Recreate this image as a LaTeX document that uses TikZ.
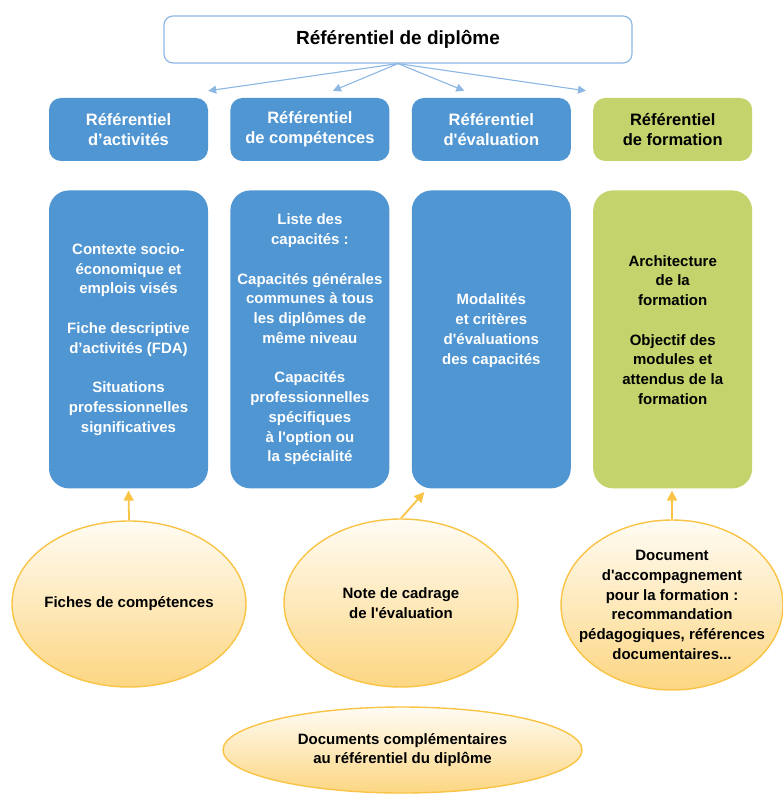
\documentclass[tikz,border=0pt]{standalone}
\usepackage{fontspec}
\setmainfont{Liberation Sans}
\usetikzlibrary{arrows.meta,positioning,shapes.geometric}
\definecolor{capblue}{RGB}{80,150,210}
\definecolor{lineblue}{RGB}{141,184,228}
\definecolor{leafgreen}{RGB}{196,211,108}
\definecolor{goldline}{RGB}{249,196,70}
\definecolor{goldfill}{RGB}{252,214,130}
\definecolor{creamfill}{RGB}{255,252,244}

\begin{document}
\begin{tikzpicture}[
  x=1pt,y=-1pt,
  node distance=29pt and 22pt,
  font=\bfseries\fontsize{15}{19.75}\selectfont,
  toptitle/.style={draw=lineblue,line width=1.2pt,rounded corners=9pt,fill=white,minimum width=468pt,minimum height=47pt,font=\bfseries\fontsize{19}{23}\selectfont},
  headbox/.style={rounded corners=12pt,minimum width=159pt,minimum height=63pt,align=center,font=\bfseries\fontsize{16.5}{20}\selectfont},
  bodybox/.style={rounded corners=20pt,minimum width=159pt,minimum height=298pt,align=center,inner sep=2pt},
  bluebox/.style={fill=capblue,text=white},
  greenbox/.style={fill=leafgreen,text=black},
  docell/.style={ellipse,draw=goldline,line width=1.4pt,top color=creamfill,bottom color=goldfill,align=center,inner sep=-60pt},
  arr/.style={-{Triangle[length=8pt,width=8pt]},line width=1.1pt,draw=lineblue,fill=lineblue},
  goldarr/.style={-{Triangle[length=10pt,width=10pt]},line width=1.8pt,draw=goldline,fill=goldline,shorten >=2pt}
]
\useasboundingbox (0,0) rectangle (782,794);

% title and the four referentials
\node[toptitle] (diplome) at (398,39.5) {Référentiel de diplôme};
\node[headbox,bluebox] (acts) at (128.5,129.5) {Référentiel\\d’activités};
\node[headbox,bluebox,right=of acts] (comp) {Référentiel\\de compétences};
\node[headbox,bluebox,right=of comp] (eval) {Référentiel\\d\textquotesingle évaluation};
\node[headbox,greenbox,right=of eval] (form) {Référentiel\\de formation};

% contents
\node[bodybox,bluebox,below=of acts] (actsbody) {Contexte socio-\\économique et\\emplois visés\\[19.75pt]Fiche descriptive\\d’activités (FDA)\\[19.75pt]Situations\\professionnelles\\significatives};
\node[bodybox,bluebox,below=of comp] (compbody) {Liste des\\capacités :\\[19.75pt]Capacités générales\\communes à tous\\les diplômes de\\même niveau\\[19.75pt]Capacités\\professionnelles\\spécifiques\\à l\textquotesingle option ou\\la spécialité};
\node[bodybox,bluebox,below=of eval,text depth=21pt] (evalbody) {Modalités\\et critères\\d\textquotesingle évaluations\\des capacités};
\node[bodybox,greenbox,below=of form,text depth=19pt] (formbody) {Architecture\\de la\\formation\\[19.75pt]Objectif des\\modules et\\attendus de la\\formation};

% complementary documents
\node[docell,minimum width=234pt,minimum height=166pt] (fiches) at (129,604) {Fiches de compétences};
\node[docell,minimum width=234pt,minimum height=168pt] (cadrage) at (401,603) {Note de cadrage\\de l\textquotesingle évaluation};
\node[docell,minimum width=222pt,minimum height=170pt] (accomp) at (672,605) {Document\\d\textquotesingle accompagnement\\pour la formation :\\recommandation\\pédagogiques, références\\documentaires...};
\node[docell,minimum width=359pt,minimum height=86pt] (complement) at (402.5,750) {Documents complémentaires\\au référentiel du diplôme};

\draw[arr] (diplome.south) -- ([yshift=7pt]acts.north east);
\draw[arr] (diplome.south) -- ([xshift=23pt,yshift=7pt]comp.north);
\draw[arr] (diplome.south) -- ([xshift=-27pt,yshift=7pt]eval.north);
\draw[arr] (diplome.south) -- ([xshift=-7pt,yshift=7pt]form.north west);

\draw[goldarr] (fiches.north) -- (actsbody.south);
\draw[goldarr] (cadrage.north) -- ([xshift=14pt,yshift=-2pt]evalbody.south west);
\draw[goldarr] (accomp.north) -- (accomp.north |- formbody.south);
\end{tikzpicture}
\end{document}
